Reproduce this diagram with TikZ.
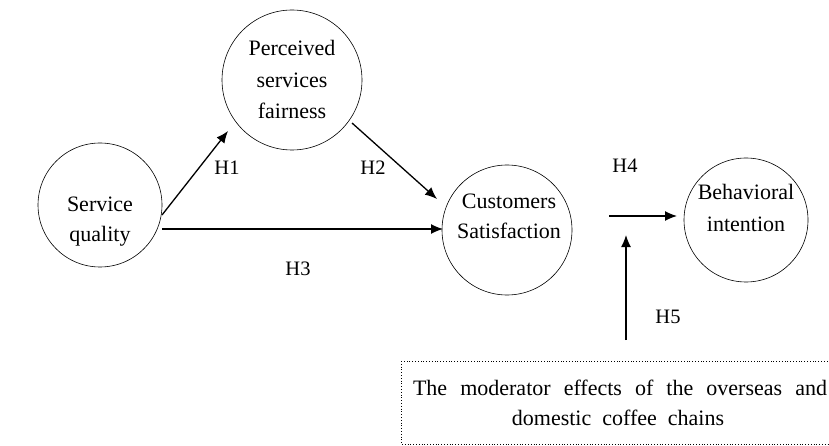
\documentclass[tikz,border=0pt]{standalone}
\usepackage{fontspec}
\setmainfont{Liberation Serif}
\usetikzlibrary{arrows.meta}
\begin{document}
\begin{tikzpicture}[x=1pt,y=-1pt,
  circ/.style={draw,circle,line width=0.6pt,inner sep=0pt},
  ctext/.style={anchor=base,inner sep=0pt,font=\fontsize{22}{30}\selectfont},
  arr/.style={-{Latex[length=12pt,width=10pt]},line width=1.3pt},
  lbl/.style={anchor=base,font=\fontsize{20.5}{24}\selectfont},
]
\useasboundingbox (0,0) rectangle (829,446);
\node[circ,minimum size=124pt] (sq) at (100,205) {};
\node[circ,minimum size=140pt] (pf) at (292,80) {};
\node[circ,minimum size=130pt] (cs) at (507,230) {};
\node[circ,minimum size=124pt] (bi) at (746,220) {};
\node[ctext] (sq1) at (100,212) {Service};
\node[ctext] (sq2) at (100,242) {quality};
\node[ctext] (pf1) at (292,56) {Perceived};
\node[ctext] (pf2) at (292,88) {services};
\node[ctext] (pf3) at (292,119) {fairness};
\node[ctext] (cs1) at (509,209) {Customers};
\node[ctext] (cs2) at (509,239) {Satisfaction};
\node[ctext] (bi1) at (746,200) {Behavioral};
\node[ctext] (bi2) at (746,232) {intention};
\draw[dotted,line width=0.8pt] (401,361) rectangle (835,444);
\node[font=\fontsize{22}{30}\selectfont,anchor=base] (modt1) at (620,395) {\makebox[414pt][s]{The moderator effects of the overseas and}};
\node[font=\fontsize{22}{30}\selectfont,anchor=base] (modt2) at (618,425) {domestic\ \ coffee\ \ chains};
\coordinate (h1s) at (162,215);
\coordinate (h1e) at (228,131);
\coordinate (h2s) at (352,123);
\coordinate (h2e) at (437,199);
\coordinate (h3s) at (162,229);
\coordinate (h3e) at (443,229);
\coordinate (h4s) at (609,216);
\coordinate (h4e) at (677,216);
\coordinate (h5s) at (626,340);
\coordinate (h5e) at (626,235);
\draw[arr] (h1s) -- (h1e);
\draw[arr] (h2s) -- (h2e);
\draw[arr] (h3s) -- (h3e);
\draw[arr] (h4s) -- (h4e);
\draw[arr] (h5s) -- (h5e);
\node[lbl] (l1) at (227,175) {H1};
\node[lbl] (l2) at (373,175) {H2};
\node[lbl] (l3) at (298,275) {H3};
\node[lbl] (l4) at (625,173) {H4};
\node[lbl] (l5) at (668,323) {H5};
\end{tikzpicture}
\end{document}
